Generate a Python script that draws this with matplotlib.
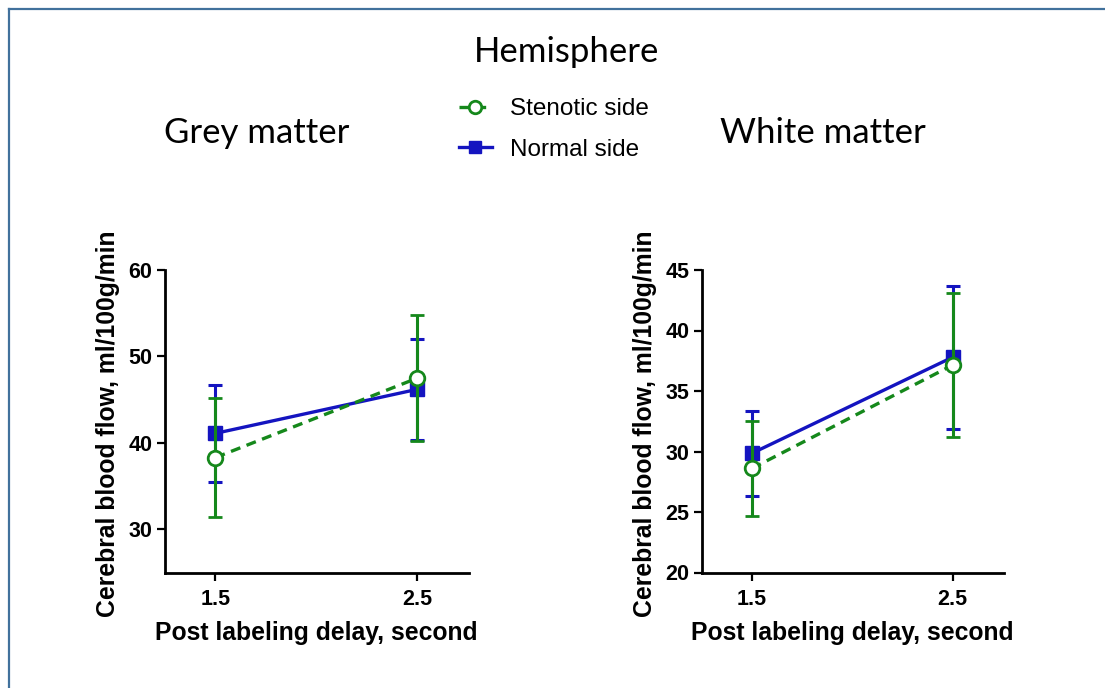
import matplotlib
matplotlib.use("Agg")
import matplotlib.pyplot as plt
from matplotlib.lines import Line2D

# data
delays = [1.5, 2.5]
xtick_labels = ["1.5", "2.5"]

grey_stenotic = [38.3, 47.5]
grey_stenotic_sd = [6.9, 7.3]
grey_normal = [41.1, 46.2]
grey_normal_sd = [5.6, 5.85]

white_stenotic = [28.6, 37.15]
white_stenotic_sd = [3.9, 5.95]
white_normal = [29.85, 37.8]
white_normal_sd = [3.5, 5.9]

grey_yticks = [30, 40, 50, 60]
white_yticks = [20, 25, 30, 35, 40, 45]

green = "#15881b"
blue = "#1414c0"

W, H = 1105, 688
fig = plt.figure(figsize=(W / 100, H / 100), dpi=100)


def fx(px):
    return px / W


def fy(py):
    return 1 - py / H


def panel(left_px, right_px, stenotic, stenotic_sd, normal, normal_sd, ylim, yticks):
    top, bottom = 270, 572.5
    ax = fig.add_axes([fx(left_px), fy(bottom), fx(right_px - left_px), (bottom - top) / H])
    # normal side first, stenotic drawn over it
    ax.errorbar(delays, normal, yerr=normal_sd, color=blue, lw=2.4, marker="s", ms=9.5,
                mfc=blue, mec=blue, capsize=5, capthick=2.2, elinewidth=2.2, zorder=3)
    ax.errorbar(delays, stenotic, yerr=stenotic_sd, color=green, lw=2.4, ls=(0, (3, 2)),
                marker="o", ms=10.5, mfc="white", mec=green, mew=2, capsize=5,
                capthick=2.2, elinewidth=2.2, zorder=4)
    ax.set_xlim(1.25, 2.755)
    ax.set_ylim(*ylim)
    ax.set_xticks(delays)
    ax.set_xticklabels(xtick_labels)
    ax.set_yticks(yticks)
    for s in ["top", "right"]:
        ax.spines[s].set_visible(False)
    for s in ["left", "bottom"]:
        ax.spines[s].set_linewidth(2)
    ax.tick_params(width=1.6, length=5.5, labelsize=15.5, pad=3.5)
    ax.tick_params(axis="x", pad=6.5)
    for lab in ax.get_xticklabels() + ax.get_yticklabels():
        lab.set_fontweight("bold")
        lab.set_family("Liberation Sans")
    return ax


ax1 = panel(165, 469, grey_stenotic, grey_stenotic_sd, grey_normal, grey_normal_sd,
            (25, 60), grey_yticks)
ax2 = panel(701.7, 1004, white_stenotic, white_stenotic_sd, white_normal, white_normal_sd,
            (20, 45), white_yticks)

label_font = dict(family="Liberation Sans", fontweight="bold", fontsize=17.8)
for cx, ycx in [(316, 108), (852, 645)]:
    fig.text(fx(cx), fy(640), "Post labeling delay, second", ha="center", va="baseline",
             **label_font)
    fig.text(fx(ycx), fy(424), "Cerebral blood flow, ml/100g/min", ha="center",
             va="center", rotation=90, **label_font)

title_font = dict(family="Lato", fontsize=25)
fig.text(fx(567), fy(62), "Hemisphere", ha="center", va="baseline", **title_font)
fig.text(fx(257), fy(143), "Grey matter", ha="center", va="baseline", **title_font)
fig.text(fx(823), fy(143), "White matter", ha="center", va="baseline", **title_font)

handles = [
    Line2D([], [], color=green, lw=2.4, ls=(0, (3, 2)), marker="o", ms=9, mfc="white",
           mec=green, mew=2),
    Line2D([], [], color=blue, lw=2.4, marker="s", ms=8, mfc=blue, mec=blue),
]
fig.legend(handles, ["Stenotic side", "Normal side"], loc="upper left",
           bbox_to_anchor=(fx(459), fy(98)), frameon=False, borderpad=0,
           borderaxespad=0, handlelength=1.35, handletextpad=0.75, labelspacing=0.78,
           prop=dict(family="Liberation Sans", size=17.5))

# frame of the original slide (left and top edges only)
border = "#41719c"
fig.add_artist(Line2D([fx(9), fx(9)], [0, fy(9)], color=border, lw=1.6))
fig.add_artist(Line2D([fx(9), 1], [fy(9), fy(9)], color=border, lw=1.6))

fig.savefig("out.png", dpi=100)
